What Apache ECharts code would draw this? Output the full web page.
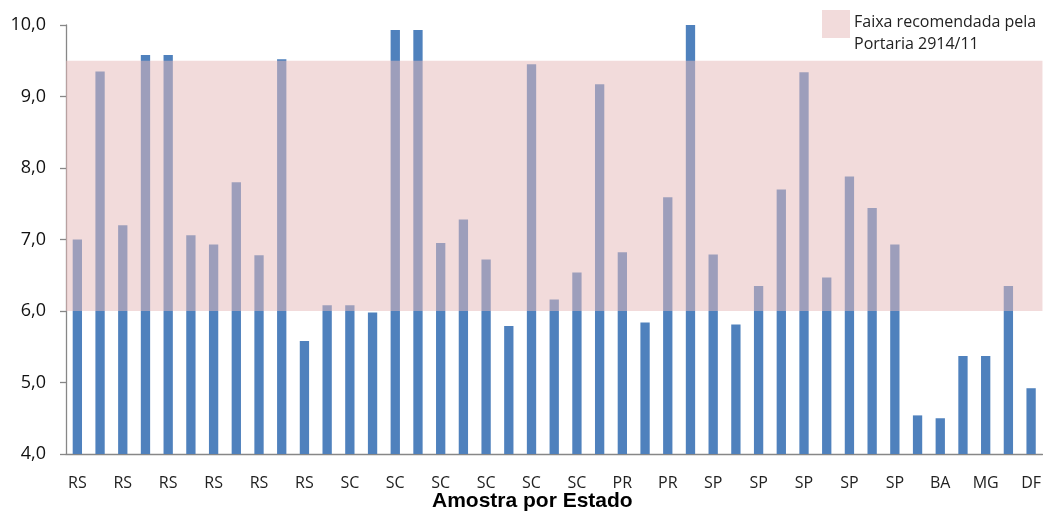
<!DOCTYPE html>
<html>
<head>
<meta charset="utf-8">
<script src="https://cdn.jsdelivr.net/npm/echarts@6/dist/echarts.min.js"></script>
<style>html,body{margin:0;padding:0;background:#fff}#c{width:1044px;height:511px}</style>
</head>
<body>
<div id="c"></div>
<script>
var categories = ['RS','RS','RS','RS','RS','RS','RS','RS','RS','RS','RS','SC','SC','SC','SC','SC','SC','SC','SC','SC','SC','SC','SC','PR','PR','PR','PR','SP','SP','SP','SP','SP','SP','SP','SP','SP','SP','BA','BA','MG','MG','DF','DF'];
var values = [7.0,9.35,7.20,9.58,9.58,7.06,6.93,7.80,6.78,9.52,5.58,6.08,6.08,5.98,9.93,9.93,6.95,7.28,6.72,5.79,9.45,6.16,6.54,9.17,6.82,5.84,7.59,10.0,6.79,5.81,6.35,7.70,9.34,6.47,7.88,7.44,6.93,4.54,4.50,5.37,5.37,6.35,4.92];
var bandRange = [6.0, 9.5];
var bandLabel = 'Faixa recomendada pela\nPortaria 2914/11';
var xTitle = 'Amostra por Estado';

var chart = echarts.init(document.getElementById('c'));
chart.setOption({
  animation: false,
  grid: {left: 66, right: -1, top: 25, bottom: 57},
  xAxis: {
    type: 'category',
    data: categories,
    boundaryGap: true,
    axisLine: {lineStyle: {color: '#878787', width: 1.3}},
    axisTick: {interval: 0, length: 6, lineStyle: {color: '#878787', width: 1.3}},
    axisLabel: {interval: 1, margin: 21, color: '#222', fontSize: 16, fontFamily: 'Open Sans'}
  },
  yAxis: {
    type: 'value',
    min: 4, max: 10, interval: 1,
    splitLine: {show: false},
    axisLine: {show: true, lineStyle: {color: '#878787', width: 1.3}},
    axisTick: {show: true, length: 6, lineStyle: {color: '#878787', width: 1.3}},
    axisLabel: {margin: 20, color: '#111', fontSize: 18, fontFamily: 'Open Sans',
      formatter: function (v) { return v.toFixed(1).replace('.', ','); }}
  },
  series: [{
    type: 'bar',
    data: values,
    barWidth: '41%',
    itemStyle: {color: '#4F81BD'},
    markArea: {
      silent: true,
      z: 10,
      itemStyle: {color: 'rgba(230,186,186,0.52)'},
      data: [[{yAxis: bandRange[0]}, {yAxis: bandRange[1]}]]
    }
  }],
  graphic: [
    {type: 'rect', left: 822, top: 10, shape: {width: 28, height: 28}, style: {fill: '#F2DBDB'}},
    {type: 'text', left: 854, top: 11, style: {text: bandLabel, fill: '#222', font: '16px "Open Sans"', lineHeight: 22}},
    {type: 'text', left: 432, top: 491, style: {text: xTitle, fill: '#000', font: 'bold 21px "Liberation Sans"'}}
  ]
});
</script>
</body>
</html>
